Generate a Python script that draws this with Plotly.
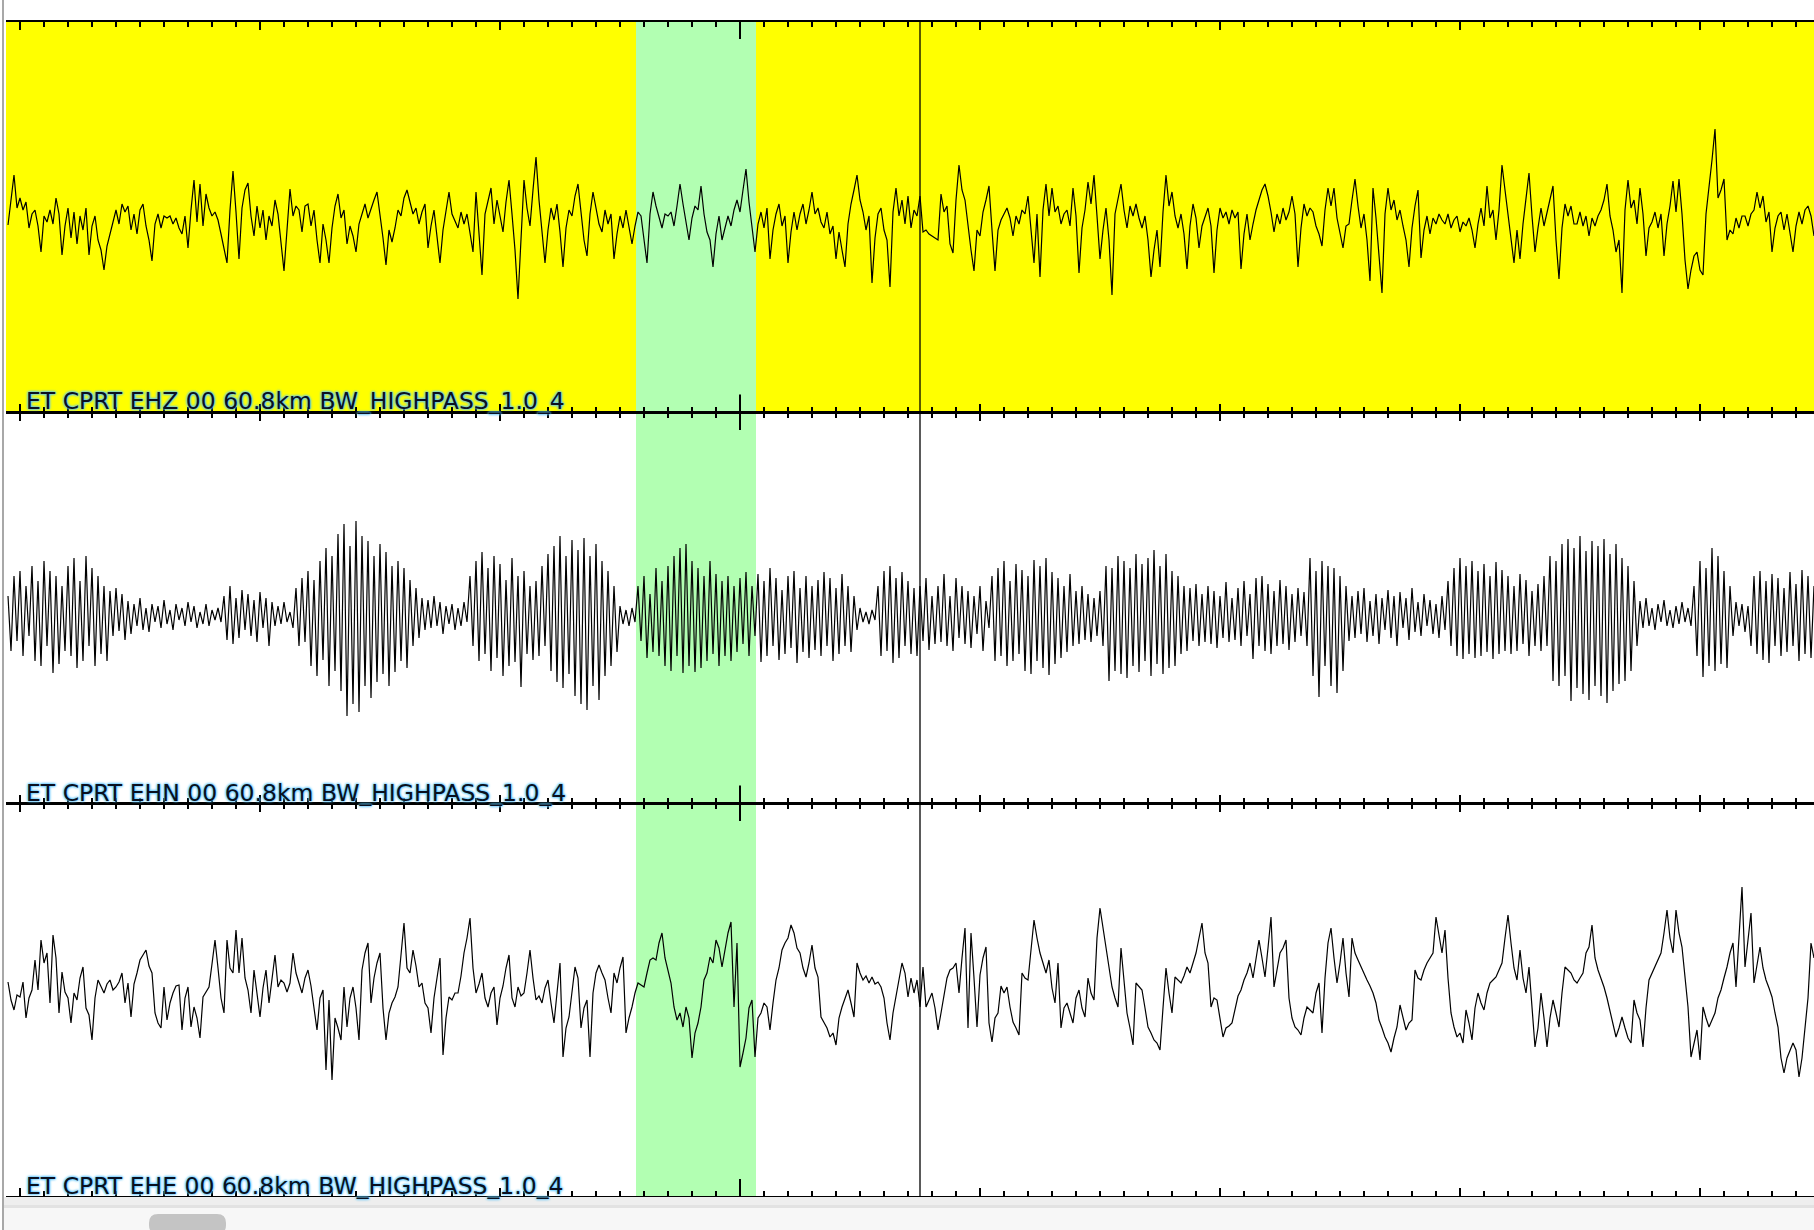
import plotly.graph_objects as go

# ---------------- data ----------------
channel_labels = [
    "ET CPRT EHZ 00 60.8km BW_HIGHPASS_1.0_4",
    "ET CPRT EHN 00 60.8km BW_HIGHPASS_1.0_4",
    "ET CPRT EHE 00 60.8km BW_HIGHPASS_1.0_4",
]
start_time = -0.5          # s, time of first sample
sample_interval = 0.125    # s

ehz = [
    -5, 20, 45, 12, 22, 10, 18, -8, 6, 10,
    -6, -32, 4, -2, 10, -4, 22, 6, -35, -6,
    12, -18, 8, -24, 4, -10, 12, -35, -6, 4,
    -20, -30, -50, -26, -14, 0, 10, -4, 16, 8,
    14, -10, 6, -14, 10, 16, -6, -20, -41, -4,
    6, -8, 4, 2, 4, -4, 2, -8, -14, 4,
    -28, 10, 40, -2, 36, -6, 26, 12, 4, 8,
    0, -14, -30, -43, 10, 49, 8, -39, 12, 30,
    37, 4, -16, 14, -8, 10, -20, 4, -6, 20,
    6, -20, -51, -10, 31, 4, 14, 10, -12, 14,
    16, -6, 10, -20, -43, -4, -20, -43, -8, 14,
    26, 2, 10, -24, -6, -16, -32, -4, 6, 16,
    2, 12, 20, 28, 6, -18, -45, -10, -22, -8,
    10, 4, 22, 30, 18, 6, 12, -4, 8, 16,
    -28, -6, 10, -20, -43, -10, 8, 28, 6, -2,
    -8, 8, -4, 6, -14, -32, 28, -10, -55, 6,
    20, 32, -4, 20, 4, -12, 18, 40, 6, -30,
    -79, -20, 40, 12, -6, 30, 63, 20, -8, -43,
    -10, 12, 0, 16, -12, -47, -8, 10, 4, 24,
    36, 4, -20, -36, 6, 28, 10, -4, -12, 10,
    -4, 6, -39, -14, 4, -8, 10, -6, -24, -6,
    8, 4, -20, -43, 6, 28, 14, 4, -8, 6,
    4, 8, -6, 14, 36, 16, -4, -20, 2, 14,
    10, 34, 6, -12, -20, -47, -14, 4, -20, -8,
    4, -6, 10, 20, 8, 30, 51, 18, -10, -32,
    -4, 8, -8, 12, -39, -10, 6, 16, -6, 4,
    -43, -12, 8, -10, 6, 16, -4, 10, 28, 6,
    12, -2, -8, 8, -14, -6, -39, -12, -30, -47,
    -4, 16, 30, 45, 20, 8, -10, 4, -63, -18,
    6, 12, -10, -20, -67, 8, 32, 4, 20, -4,
    24, -8, 10, 4, 24, -12, -10, -14, -16, -18,
    -20, 26, 8, 14, -24, -33, 20, 55, 30, 20,
    -8, -30, -51, -10, -16, 8, 20, 34, -10, -51,
    -10, 0, 6, 12, 2, -16, 4, -4, 10, 6,
    24, -6, -43, 6, -57, 10, 36, 4, 32, 8,
    14, -4, 6, 10, -6, 32, 4, -53, -8, 10,
    38, 16, 45, 4, -39, -10, 12, -20, -75, 6,
    20, 36, 10, -8, 14, 4, 16, 2, -8, 4,
    -20, -57, -30, -10, -47, 8, 45, 14, 28, 4,
    -8, 6, -14, -49, -6, 16, 2, -28, -6, 4,
    12, -6, -53, -10, 12, 2, 8, -4, 10, 2,
    8, -49, -14, 6, -20, -4, 10, 20, 30, 36,
    24, 8, -12, 6, -4, 12, 0, 8, 24, 6,
    -47, -8, 16, 4, 12, 8, -6, -14, -26, 10,
    32, 14, 32, 2, -12, -28, -6, -4, 20, 41,
    14, -8, 6, -20, -61, 32, 2, -36, -73, 6,
    32, 10, 20, 0, 10, -6, -20, -47, -8, 14,
    30, -38, -10, 4, -14, 2, -4, 6, 0, -4,
    6, -8, 0, 4, -12, -2, -6, 2, -10, -28,
    -4, 12, -6, 34, 2, 10, -20, 10, 55, 30,
    4, -20, -43, -10, -39, -4, 20, 47, 4, -32,
    -8, 12, -6, 8, 20, 34, -20, -59, -8, 16,
    4, 14, -4, -4, 8, -6, 4, -16, 2, -6,
    4, 10, 20, 36, 4, -10, -32, -20, -73, 10,
    40, 12, 20, -4, 32, 6, -36, -8, -2, 8,
    -8, 6, -36, -4, 14, 39, 8, 41, 6, -40,
    -69, -50, -36, -32, -50, -55, 6, 32, 60, 91,
    22, 30, 41, -20, -10, -14, 2, -8, 4, 4,
    -6, 6, 10, 28, 12, 24, -2, 8, -32, -8,
    4, 8, -10, 6, -12, -32, -6, 8, -4, 10,
    14, 4, -16,
]

ehn = [
    20, -35, 40, -25, 45, -40, 30, -20, 50, -45,
    35, -50, 55, -30, 45, -57, 40, -48, 30, -35,
    50, -40, 58, -52, 35, -45, 60, -30, 48, -50,
    40, -38, 30, -45, 25, -20, 28, -15, 22, -24,
    15, -18, 12, -10, 18, -14, 8, -16, 12, -6,
    10, -12, 16, -8, 6, -14, 12, -4, 8, -10,
    14, -6, 10, -12, 4, -8, 12, -10, 6, -4,
    8, -6, 20, -24, 30, -28, 18, -22, 26, -14,
    22, -20, 16, -26, 24, -12, 18, -30, 14, -10,
    10, -8, 14, -6, 4, -12, 28, -30, 38, -26,
    45, -50, 36, -60, 55, -44, 68, -70, 60, -55,
    82, -75, 92, -100, 70, -88, 95, -96, 80, -70,
    75, -82, 60, -66, 72, -58, 64, -70, 50, -56,
    55, -45, 48, -52, 36, -30, 28, -22, 18, -14,
    16, -12, 20, -10, 14, -18, 10, -8, 12, -14,
    8, -10, 14, -6, 40, -30, 55, -45, 64, -38,
    48, -55, 60, -42, 52, -60, 36, -50, 58, -46,
    40, -71, 45, -38, 30, -44, 35, -40, 50, -30,
    62, -55, 70, -66, 80, -72, 60, -58, 76, -80,
    66, -88, 78, -94, 60, -70, 72, -84, 55, -60,
    45, -50, 30, -36, 10, -8, 6, -10, 8, -6,
    30, -25, 40, -42, 22, -36, 48, -40, 35, -50,
    50, -55, 60, -40, 68, -57, 72, -50, 55, -56,
    48, -52, 40, -45, 55, -38, 42, -50, 35, -40,
    40, -45, 30, -36, 38, -28, 44, -40, 30, -20,
    42, -46, 35, -40, 48, -30, 38, -44, 26, -38,
    40, -32, 45, -47, 28, -36, 40, -42, 30, -34,
    36, -40, 44, -30, 38, -45, 28, -38, 42, -30,
    30, -36, 20, -14, 8, -6, 4, -8, 6, -4,
    30, -40, 45, -35, 50, -47, 38, -42, 44, -30,
    35, -38, 28, -40, 30, -25, 38, -34, 20, -28,
    30, -26, 42, -30, 20, -35, 38, -22, 30, -28,
    25, -32, 20, -18, 30, -35, 15, -12, 40, -45,
    48, -40, 55, -50, 35, -45, 52, -38, 46, -55,
    40, -58, 56, -45, 50, -52, 58, -59, 44, -48,
    38, -42, 30, -36, 42, -30, 25, -28, 30, -24,
    22, -26, 18, -20, 25, -30, 50, -65, 48, -55,
    60, -58, 55, -62, 48, -50, 62, -56, 52, -45,
    58, -60, 66, -48, 50, -58, 62, -52, 45, -50,
    40, -38, 30, -35, 28, -25, 32, -30, 22, -26,
    30, -28, 25, -32, 20, -22, 34, -26, 18, -24,
    28, -30, 35, -20, 22, -43, 38, -30, 40, -35,
    32, -38, 25, -30, 36, -28, 30, -34, 22, -26,
    28, -20, 24, -30, 58, -60, 45, -81, 55, -50,
    50, -70, 48, -77, 40, -55, 30, -25, 20, -22,
    25, -18, 28, -26, 15, -20, 22, -28, 18, -14,
    26, -22, 20, -30, 24, -12, 18, -24, 28, -16,
    14, -20, 22, -10, 16, -18, 12, -22, 20, -14,
    35, -30, 48, -40, 58, -43, 50, -38, 55, -42,
    45, -40, 52, -36, 40, -43, 54, -38, 46, -35,
    40, -38, 30, -35, 42, -28, 36, -40, 25, -30,
    32, -35, 40, -30, 60, -65, 55, -70, 72, -60,
    77, -85, 68, -72, 80, -78, 65, -84, 75, -70,
    70, -80, 77, -87, 62, -75, 72, -68, 58, -65,
    50, -55, 35, -30, 15, -12, 18, -10, 8, -14,
    12, -6, 16, -10, 6, -12, 10, -8, 14, -6,
    8, -10, 30, -40, 55, -61, 48, -50, 68, -55,
    60, -48, 45, -52, 30, -20, 14, -10, 12, -16,
    10, -30, 40, -38, 45, -44, 35, -47, 42, -30,
    38, -40, 28, -36, 44, -30, 32, -45, 46, -38,
    40, -42, 30,
]

ehe = [
    6, -12, -22, -7, -9, 6, -30, -10, -2, 28,
    -2, 48, 25, 35, -15, 53, 30, -25, 16, -4,
    -10, -35, -5, -12, 10, 21, -20, -27, -52, -10,
    8, 2, -5, 4, 8, -2, 1, 6, 15, -15,
    5, -29, 4, 15, 28, 33, 38, 22, 15, -25,
    -35, -40, 1, -32, -15, -5, 2, 3, -42, -10,
    1, -39, -19, -30, -50, -9, -4, 1, 24, 48,
    20, -10, -25, 48, 20, 15, 58, 15, 50, 10,
    -2, -25, 18, -5, -29, 0, 18, -15, 10, 33,
    1, 8, 5, -4, 5, 35, 15, 6, -5, 10,
    18, 2, -19, -42, -10, -2, -82, -12, -92, -30,
    -40, -52, 1, -39, -10, 1, -20, -52, 18, 35,
    45, -15, 10, 25, 35, -20, -52, -25, -15, -9,
    1, 30, 65, 20, 15, 38, 22, 1, 5, -15,
    -20, -45, -10, 10, 30, -67, -30, -9, -12, -5,
    -5, 12, 35, 50, 70, 20, -5, 4, 15, -10,
    -19, -5, 1, -37, -10, 2, 20, 33, -10, -19,
    1, -8, -5, 15, 38, 10, -12, -8, -15, 0,
    8, -15, -35, -5, 25, -69, -40, -29, -5, 21,
    10, -40, -20, -12, -69, -5, 15, 23, 15, 8,
    -10, -25, 15, 5, 20, 31, -45, -30, -19, -5,
    5, 3, 1, 15, 28, 30, 28, 45, 55, 30,
    18, 5, -19, -32, -25, -39, -19, -30, -70, -45,
    -35, -19, 8, 15, 31, 25, 48, 40, 21, 40,
    55, 66, -19, 45, -79, -65, -50, -20, -12, -69,
    -30, -25, -15, -19, -42, -15, 8, 20, 38, 45,
    50, 63, 55, 40, 35, 20, 11, 25, 43, 20,
    11, -29, -35, -40, -49, -45, -57, -30, -19, -10,
    -2, -15, -29, 25, 15, 8, 12, 5, 11, 4,
    6, 1, -10, -35, -52, -25, -9, 10, 25, 15,
    -9, 10, -5, 8, -19, 21, -19, -12, -5, -20,
    -42, -25, -5, 10, 18, 20, 25, -5, 30, 60,
    -40, 55, 10, -39, 13, 30, 41, -35, -54, -30,
    -25, 2, -5, 1, -19, -34, -40, -47, 15, 10,
    8, 40, 68, 50, 35, 25, 15, 28, 0, -15,
    25, -40, -20, -15, -25, -35, -10, -2, -20, -29,
    10, -5, -12, 50, 80, 60, 40, 25, 1, -10,
    -19, 40, 5, -25, -40, -57, 5, 2, -2, -20,
    -39, -45, -52, -55, -62, -20, 20, -5, -25, 11,
    8, 5, 12, 21, 15, 25, 35, 50, 65, 35,
    25, -19, -10, -12, -30, -49, -40, -38, -35, -20,
    -8, -2, 8, 15, 25, 10, 30, 48, 30, 11,
    40, 71, 1, 20, 35, 40, 48, -10, -30, -39,
    -42, -47, -30, -19, -22, -25, -5, 5, -45, 10,
    45, 60, 30, 5, 25, 50, 15, -9, 50, 35,
    28, 21, 15, 8, 2, -5, -15, -32, -40, -49,
    -55, -64, -50, -39, -17, -30, -42, -35, -32, 18,
    10, 8, 18, 25, 30, 35, 71, 55, 35, 58,
    10, -25, -39, -49, -45, -55, -22, -35, -52, -20,
    -5, -15, -22, -5, 5, 8, 11, 18, 25, 50,
    73, 45, 20, 8, 38, 10, -5, 21, -20, -59,
    -40, -5, -30, -59, -30, -12, -25, -39, -5, 21,
    18, 15, 8, 5, 10, 15, 35, 41, 63, 30,
    18, 10, 1, -10, -22, -35, -49, -40, -29, -40,
    -50, -55, -12, -25, -32, -59, -20, 8, 15, 21,
    28, 35, 55, 78, 50, 35, 78, 55, 41, 10,
    -19, -69, -55, -42, -72, -19, -30, -39, -32, -25,
    -10, -2, 10, 21, 35, 45, 1, 50, 101, 21,
    50, 75, 5, 25, 41, 20, 8, 0, -9, -25,
    -39, -70, -85, -70, -62, -55, -62, -89, -70, -40,
    -10, 45, 30,
]

pick_window = [25.667, 30.667]     # s, highlighted window
cursor_time = 37.5                 # s, vertical cursor line
marker_tick_times = [30]           # s, extra-long tick marks
time_range = [-0.5833, 74.75]      # s
y_ranges = [[-191.5, 198], [-186.5, 203], [-208, 184]]

# ---------------- layout geometry ----------------
W, H = 1814, 1230
ML, MR, MT, MB = 6, 0, 22, 34
PH = H - MT - MB
PW = W - ML - MR


def py(p):  # pixel row -> paper y
    return (H - MB - p) / PH


def px(p):  # pixel column -> paper x
    return (p - ML) / PW


domains = [[py(411.5), 1.0], [py(802.5), py(413)], [0.0, py(804)]]
panel_px = [(22, 411.5), (413, 802.5), (804, 1196)]

traces_data = [ehz, ehn, ehe]
fig = go.Figure()
for k, vals in enumerate(traces_data):
    t = [start_time + sample_interval * i for i in range(len(vals))]
    sfx = "" if k == 0 else str(k + 1)
    fig.add_trace(go.Scatter(
        x=t, y=vals, mode="lines",
        line=dict(color="black", width=1.2),
        xaxis="x" + sfx, yaxis="y" + sfx,
        hoverinfo="skip", showlegend=False,
    ))

layout = dict(
    width=W, height=H,
    margin=dict(l=ML, r=MR, t=MT, b=MB, autoexpand=False),
    paper_bgcolor="white", plot_bgcolor="rgba(0,0,0,0)",
    showlegend=False,
)
for k in range(3):
    sfx = "" if k == 0 else str(k + 1)
    layout["xaxis" + sfx] = dict(
        domain=[0, 1], range=time_range, anchor="y" + sfx,
        showticklabels=False, showgrid=False, zeroline=False,
        ticks="inside", tick0=0, dtick=10, ticklen=8, tickwidth=2, tickcolor="black",
        minor=dict(ticks="inside", tick0=0, dtick=1, ticklen=5, tickwidth=1.5,
                   tickcolor="black", showgrid=False),
        showline=True, linecolor="black", linewidth=1.5, mirror="ticks",
        fixedrange=True,
    )
    if k > 0:
        layout["xaxis" + sfx]["matches"] = "x"
    layout["yaxis" + sfx] = dict(
        domain=domains[k], range=y_ranges[k], anchor="x" + sfx,
        visible=False, fixedrange=True,
    )
fig.update_layout(**layout)

shapes = []
# yellow background of the selected (top) panel
shapes.append(dict(type="rect", xref="paper", yref="paper", x0=0, x1=1,
                   y0=domains[1][1], y1=1, fillcolor="#ffff00",
                   line=dict(width=0), layer="below"))
# green pick window spanning all panels
shapes.append(dict(type="rect", xref="x", yref="paper",
                   x0=pick_window[0], x1=pick_window[1], y0=0, y1=1,
                   fillcolor="#b2ffb2", line=dict(width=0), layer="below"))
# cursor line
shapes.append(dict(type="line", xref="x", yref="paper",
                   x0=cursor_time, x1=cursor_time, y0=0, y1=1,
                   line=dict(color="black", width=1.3), layer="below"))
# extra long tick marks on every panel edge
for tm in marker_tick_times:
    for (top, bot) in panel_px:
        shapes.append(dict(type="line", xref="x", yref="paper", x0=tm, x1=tm,
                           y0=py(top), y1=py(top + 17),
                           line=dict(color="black", width=2), layer="above"))
        shapes.append(dict(type="line", xref="x", yref="paper", x0=tm, x1=tm,
                           y0=py(bot), y1=py(bot - 17),
                           line=dict(color="black", width=2), layer="above"))
# window chrome: bottom scroll area
shapes.append(dict(type="rect", xref="paper", yref="paper", x0=px(4), x1=px(W),
                   y0=py(1197), y1=py(1205), fillcolor="#eeeeee", line=dict(width=0)))
shapes.append(dict(type="rect", xref="paper", yref="paper", x0=px(4), x1=px(W),
                   y0=py(1205), y1=py(1208), fillcolor="#e2e2e2", line=dict(width=0)))
shapes.append(dict(type="rect", xref="paper", yref="paper", x0=px(4), x1=px(W),
                   y0=py(1208), y1=py(H), fillcolor="#f7f7f7", line=dict(width=0)))
# scrollbar thumb (rounded)
x0, x1, y0, y1, r = 149, 226, 1214, 1234, 9
path = (f"M{px(x0 + r)},{py(y0)} L{px(x1 - r)},{py(y0)} "
        f"Q{px(x1)},{py(y0)} {px(x1)},{py(y0 + r)} L{px(x1)},{py(y1 - r)} "
        f"Q{px(x1)},{py(y1)} {px(x1 - r)},{py(y1)} L{px(x0 + r)},{py(y1)} "
        f"Q{px(x0)},{py(y1)} {px(x0)},{py(y1 - r)} L{px(x0)},{py(y0 + r)} "
        f"Q{px(x0)},{py(y0)} {px(x0 + r)},{py(y0)} Z")
shapes.append(dict(type="path", xref="paper", yref="paper", path=path,
                   fillcolor="#c4c4c4", line=dict(width=0)))
# left window border
shapes.append(dict(type="rect", xref="paper", yref="paper", x0=px(2), x1=px(4),
                   y0=py(H), y1=py(0), fillcolor="#a8a8a8", line=dict(width=0)))
fig.update_layout(shapes=shapes)

annotations = []
for k, lab in enumerate(channel_labels):
    sfx = "" if k == 0 else str(k + 1)
    annotations.append(dict(
        text=lab, xref="paper", x=px(24), xanchor="left",
        yref="y" + sfx + " domain", y=0, yanchor="bottom", yshift=-6,
        showarrow=False,
        font=dict(family="DejaVu Sans", size=23.5, color="#0a1020",
                  shadow="0px 0px 2px #5cc6ff, 0px 0px 3px #5cc6ff, 0px 0px 3px #5cc6ff"),
    ))
fig.update_layout(annotations=annotations)

fig.write_html("out.html", config={"displayModeBar": False},
               post_script="document.body.style.margin='0px';")
